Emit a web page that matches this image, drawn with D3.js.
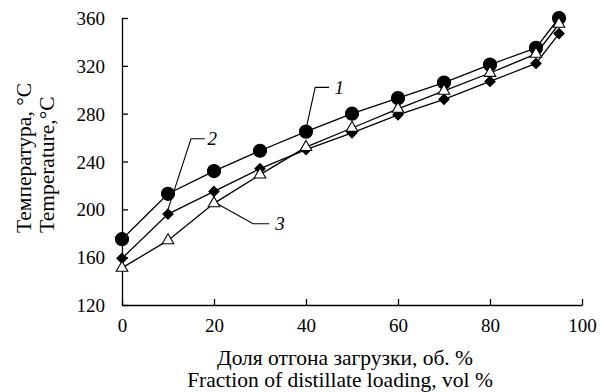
<!DOCTYPE html>
<html>
<head>
<meta charset="utf-8">
<script src="https://cdn.jsdelivr.net/npm/d3@7"></script>
<style>
  body { margin: 0; background: #fff; }
</style>
</head>
<body>
<svg id="chart" width="600" height="392"></svg>
<script>
// fraction of distillate, vol %
var fraction = [0, 10, 20, 30, 40, 50, 60, 70, 80, 90, 95];
// temperature, °C
var curve1 = [175, 213, 232, 249, 265, 280, 293, 306, 321, 335, 360];
var curve2 = [159, 196, 215, 234, 250, 264, 279, 292, 307, 322, 347];
var curve3 = [151, 174, 205, 229, 252, 268, 284, 299, 314, 330, 355];
var xTicks = [0, 20, 40, 60, 80, 100];
var yTicks = [120, 160, 200, 240, 280, 320, 360];

var serif = '"Liberation Serif"';
var margin = {left: 122, right: 18, top: 18, bottom: 87};
var width = 600, height = 392;

var svg = d3.select('#chart');

var x = d3.scaleLinear().domain([0, 100]).range([margin.left, width - margin.right]);
var y = d3.scaleLinear().domain([120, 360]).range([height - margin.bottom, margin.top]);

// axes, ticks pointing inward
var xAxis = svg.append('g')
  .attr('transform', 'translate(0,' + y(120) + ')')
  .call(d3.axisBottom(x).tickValues(xTicks).tickSizeInner(-6).tickSizeOuter(0).tickPadding(14));
var yAxis = svg.append('g')
  .attr('transform', 'translate(' + x(0) + ',0)')
  .call(d3.axisLeft(y).tickValues(yTicks).tickSizeInner(-6).tickSizeOuter(0).tickPadding(17));

[xAxis, yAxis].forEach(function(g) {
  g.attr('font-family', null);
  g.select('.domain').attr('stroke', '#000').attr('stroke-width', 1.3);
  g.selectAll('.tick line').attr('stroke', '#000').attr('stroke-width', 1.3);
  g.selectAll('.tick text')
    .style('font-family', serif)
    .style('font-size', '19px')
    .attr('fill', '#000');
});
yAxis.selectAll('.tick text').attr('dy', '0.35em');

var line = d3.line()
  .x(function(d, i) { return x(fraction[i]); })
  .y(function(d) { return y(d); });

// square diamond (d3's own diamond is too tall for this chart)
var squareDiamond = {
  draw: function(context, size) {
    var r = Math.sqrt(size / 2);
    context.moveTo(0, -r);
    context.lineTo(r, 0);
    context.lineTo(0, r);
    context.lineTo(-r, 0);
    context.closePath();
  }
};

var series = [
  {values: curve1, symbol: d3.symbolCircle, size: 135, fill: '#000'},
  {values: curve2, symbol: squareDiamond, size: 52, fill: '#000'},
  {values: curve3, symbol: d3.symbolTriangle, size: 58, fill: '#fff'}
];

series.forEach(function(s) {
  svg.append('path')
    .datum(s.values)
    .attr('fill', 'none')
    .attr('stroke', '#000')
    .attr('stroke-width', 1.3)
    .attr('d', line);
});

series.forEach(function(s) {
  svg.append('g').selectAll('path')
    .data(s.values)
    .enter().append('path')
    .attr('transform', function(d, i) { return 'translate(' + x(fraction[i]) + ',' + y(d) + ')'; })
    .attr('d', d3.symbol().type(s.symbol).size(s.size))
    .attr('fill', s.fill)
    .attr('stroke', '#000')
    .attr('stroke-width', 1.1);
});

// curve labels with leader lines
var labels = [
  {text: '1', pts: [[40, 267], [42, 302], [45, 302]], tx: 46.2, ty: 302},
  {text: '2', pts: [[10, 200], [15, 259], [18, 259]], tx: 18.6, ty: 259},
  {text: '3', pts: [[21, 204], [28.5, 188], [32, 188]], tx: 33.3, ty: 188}
];
labels.forEach(function(l) {
  svg.append('path')
    .attr('d', d3.line().x(function(p) { return x(p[0]); }).y(function(p) { return y(p[1]); })(l.pts))
    .attr('fill', 'none')
    .attr('stroke', '#000')
    .attr('stroke-width', 1.1);
  svg.append('text')
    .attr('x', x(l.tx))
    .attr('y', y(l.ty))
    .attr('dy', '0.35em')
    .style('font-family', serif)
    .style('font-size', '19px')
    .style('font-style', 'italic')
    .text(l.text);
});

// axis titles
function title(txt, tx, ty, rot, anchor) {
  svg.append('text')
    .attr('transform', 'translate(' + tx + ',' + ty + ')' + (rot ? ' rotate(-90)' : ''))
    .attr('text-anchor', anchor)
    .style('font-family', serif)
    .style('font-size', '21.5px')
    .text(txt);
}
title('Доля отгона загрузки, об. %', 345, 365, false, 'middle');
title('Fraction of distillate loading, vol %', 340, 387, false, 'middle');
title('Температура, °C', 31, 233, true, 'start');
title('Temperature,°C', 54, 233, true, 'start');
</script>
</body>
</html>
